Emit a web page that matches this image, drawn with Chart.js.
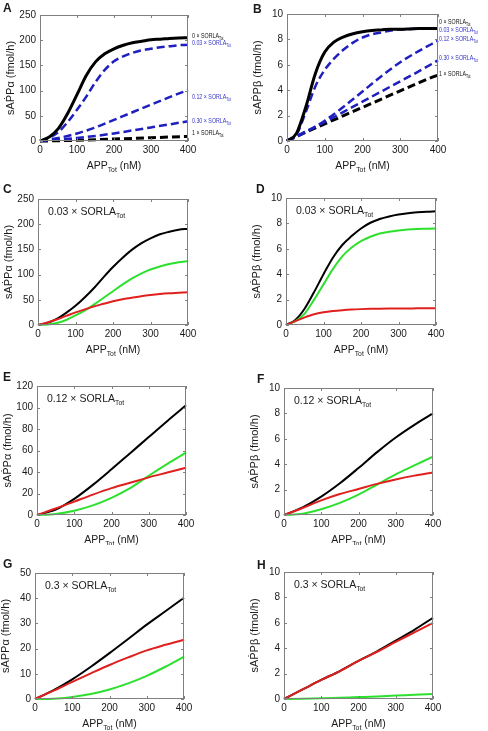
<!DOCTYPE html>
<html>
<head>
<meta charset="utf-8">
<script src="https://cdn.jsdelivr.net/npm/chart.js@4.4.1/dist/chart.umd.min.js"></script>
<style>
  body { margin: 0; background: #fff; width: 488px; height: 731px; position: relative; overflow: hidden; }
  canvas { position: absolute; }
</style>
</head>
<body>
<script>
// APP_Tot (nM) sample points
const appFine = [0, 25, 50, 75, 100, 125, 150, 175, 200, 225, 250, 275, 300, 325, 350, 375, 400];
const appCoarse = [0, 50, 100, 150, 200, 250, 300, 350, 400];

// tick labels
const xTicks = [0, 100, 200, 300, 400];
const yTicks250 = [0, 50, 100, 150, 200, 250];
const yTicks120 = [0, 20, 40, 60, 80, 100, 120];
const yTicks50 = [0, 10, 20, 30, 40, 50];
const yTicks10 = [0, 2, 4, 6, 8, 10];

const sorlaLevels = ['0', '0.03', '0.12', '0.30', '1'];

// A: sAPPalpha for several SORLA levels
const aSorla0 = [0, 8, 25, 55, 92, 130, 157, 173, 183, 190, 195, 198, 201, 202, 203.5, 204.5, 205];
const aSorla003 = [0, 7, 18, 38, 62, 88, 117, 141, 158, 168, 175, 180, 183, 186, 188, 190, 191];
const aSorla012 = [0, 6, 15, 27, 42, 57, 72, 87, 101];
const aSorla030 = [0, 3, 6, 10, 15, 21, 27, 33, 39];
const aSorla1 = [0, 0.6, 1.5, 2.6, 3.9, 5.2, 6.5, 7.8, 9];

// B: sAPPbeta for several SORLA levels
const bSorla0 = [0, 0.6, 2.7, 5.3, 7.0, 7.8, 8.2, 8.45, 8.6, 8.7, 8.75, 8.8, 8.8, 8.82, 8.85, 8.85, 8.85];
const bSorla003 = [0, 0.5, 2.3, 4.3, 5.6, 6.5, 7.2, 7.75, 8.15, 8.4, 8.55, 8.7, 8.78, 8.82, 8.85, 8.87, 8.88];
const bSorla012 = [0, 0.7, 1.6, 2.7, 3.9, 5.1, 6.2, 7.1, 7.9];
const bSorla030 = [0, 0.75, 1.5, 2.3, 3.1, 3.9, 4.7, 5.5, 6.35];
const bSorla1 = [0, 0.7, 1.35, 2.0, 2.65, 3.3, 3.95, 4.6, 5.2];

// C, D: 0.03 x SORLA
const cBlack = [0, 4, 12, 24, 38, 55, 74, 95, 115, 133, 149, 162, 172, 180, 185, 189, 191];
const cGreen = [0, 1, 4, 10, 19, 29, 41, 54, 67, 80, 92, 102, 110, 116, 121, 124.5, 127];
const cRed = [0, 5, 11, 18, 25, 31, 37, 42, 47, 51, 54, 57, 59.5, 61.5, 63, 64, 65];
const dBlack = [0, 0.4, 1.3, 2.6, 4.0, 5.3, 6.3, 7.0, 7.6, 8.05, 8.35, 8.55, 8.7, 8.8, 8.87, 8.92, 8.95];
const dGreen = [0, 0.3, 0.9, 2.0, 3.2, 4.4, 5.4, 6.1, 6.6, 6.95, 7.2, 7.35, 7.45, 7.52, 7.56, 7.58, 7.6];
const dRed = [0, 0.3, 0.6, 0.85, 1.0, 1.1, 1.17, 1.22, 1.25, 1.27, 1.28, 1.29, 1.3, 1.3, 1.31, 1.31, 1.32];

// E, F: 0.12 x SORLA
const eBlack = [0, 5, 15, 28, 42.5, 57.5, 72.5, 87.5, 102];
const eGreen = [0, 1, 4, 9, 16, 25, 36.5, 47.5, 58];
const eRed = [0, 6, 12.5, 19, 25, 30, 35, 39.5, 44];
const fBlack = [0, 0.6, 1.45, 2.5, 3.7, 4.95, 6.1, 7.1, 8.0];
const fGreen = [0, 0.1, 0.45, 0.95, 1.6, 2.4, 3.2, 3.9, 4.6];
const fRed = [0, 0.55, 1.15, 1.65, 2.05, 2.45, 2.8, 3.1, 3.35];

// G, H: 0.3 x SORLA
const gBlack = [0, 3.5, 7.8, 12.8, 18.2, 23.8, 29.5, 34.8, 40.2];
const gGreen = [0, 0.1, 0.8, 2.0, 3.8, 6.2, 9.2, 12.8, 16.8];
const gRed = [0, 3.3, 6.8, 10.2, 13.5, 16.5, 19.3, 21.5, 23.5];
const hBlack = [0, 0.75, 1.5, 2.2, 3.0, 3.75, 4.6, 5.45, 6.4];
const hGreen = [0, 0.02, 0.05, 0.1, 0.15, 0.2, 0.27, 0.33, 0.4];
const hRed = [0, 0.75, 1.5, 2.2, 3.0, 3.72, 4.5, 5.25, 6.0];

const FONT = '"Liberation Sans", Arial, Helvetica, sans-serif';
const BLUE = '#1f1fbf';
const BLUE_TXT = '#3434c8';
const GREEN = '#2ee02e';
const RED = '#e0201e';

function line(xs, ys, color, width, dash) {
  return {
    data: xs.map((x, i) => ({ x: x, y: ys[i] })),
    borderColor: color,
    borderWidth: width,
    borderDash: dash || [],
    borderCapStyle: 'butt',
    pointRadius: 0,
    cubicInterpolationMode: 'monotone',
    fill: false,
    clip: false
  };
}

const DASH = [8, 4];

const panels = [
  { letter: 'A', at: [3, 12], box: [0, 0, 244, 175], plot: [40, 15, 188, 141], yTicks: yTicks250, greek: 'α',
    sets: [
      line(appFine, aSorla0, '#000', 3),
      line(appFine, aSorla003, BLUE, 2.5, DASH),
      line(appCoarse, aSorla012, BLUE, 2.5, DASH),
      line(appCoarse, aSorla030, BLUE, 2.5, DASH),
      line(appCoarse, aSorla1, '#000', 3, DASH)
    ],
    side: { dx: 4, at: [210, 196, 89, 40, 16] } },
  { letter: 'B', at: [253, 13], box: [244, 0, 244, 175], plot: [287, 14, 438, 141], yTicks: yTicks10, greek: 'β',
    sets: [
      line(appFine, bSorla0, '#000', 3),
      line(appFine, bSorla003, BLUE, 2.5, DASH),
      line(appCoarse, bSorla012, BLUE, 2.5, DASH),
      line(appCoarse, bSorla030, BLUE, 2.5, DASH),
      line(appCoarse, bSorla1, '#000', 3, DASH)
    ],
    side: { dx: 1, at: [9.37, 8.74, 8.03, 6.54, 5.28] } },
  { letter: 'C', at: [3, 193], box: [0, 175, 244, 185], plot: [38, 199, 188, 325], yTicks: yTicks250, greek: 'α', inset: '0.03',
    sets: [line(appFine, cRed, RED, 2), line(appFine, cGreen, GREEN, 2), line(appFine, cBlack, '#000', 2)] },
  { letter: 'D', at: [256, 193], box: [244, 175, 244, 185], plot: [286, 198, 436, 325], yTicks: yTicks10, greek: 'β', inset: '0.03',
    sets: [line(appFine, dRed, RED, 2), line(appFine, dGreen, GREEN, 2), line(appFine, dBlack, '#000', 2)] },
  { letter: 'E', at: [3, 381], box: [0, 360, 244, 185], plot: [37, 386, 186, 515], yTicks: yTicks120, greek: 'α', inset: '0.12',
    sets: [line(appCoarse, eRed, RED, 2), line(appCoarse, eGreen, GREEN, 2), line(appCoarse, eBlack, '#000', 2)] },
  { letter: 'F', at: [257, 383], box: [244, 360, 244, 185], plot: [284, 388, 433, 515], yTicks: yTicks10, greek: 'β', inset: '0.12',
    sets: [line(appCoarse, fRed, RED, 2), line(appCoarse, fGreen, GREEN, 2), line(appCoarse, fBlack, '#000', 2)] },
  { letter: 'G', at: [3, 568], box: [0, 545, 244, 186], plot: [35, 573, 184, 699], yTicks: yTicks50, greek: 'α', inset: '0.3',
    sets: [line(appCoarse, gRed, RED, 2), line(appCoarse, gGreen, GREEN, 2), line(appCoarse, gBlack, '#000', 2)] },
  { letter: 'H', at: [257, 569], box: [244, 545, 244, 186], plot: [284, 572, 433, 699], yTicks: yTicks10, greek: 'β', inset: '0.3',
    sets: [line(appCoarse, hGreen, GREEN, 2), line(appCoarse, hRed, RED, 2), line(appCoarse, hBlack, '#000', 2)] }
];

// draws text made of normal and subscript parts, optionally squeezed horizontally
function drawParts(ctx, parts, x, y, size, align, squeeze) {
  const sx = squeeze || 1;
  const subSize = size * 0.65;
  let w = 0;
  parts.forEach(([t, sub]) => {
    ctx.font = (sub ? subSize : size) + 'px ' + FONT;
    w += ctx.measureText(t).width;
  });
  w *= sx;
  ctx.save();
  ctx.translate(align === 'center' ? x - w / 2 : x, y);
  ctx.scale(sx, 1);
  ctx.textAlign = 'left';
  ctx.textBaseline = 'alphabetic';
  let cx = 0;
  parts.forEach(([t, sub]) => {
    ctx.font = (sub ? subSize : size) + 'px ' + FONT;
    ctx.fillText(t, cx, sub ? size * 0.3 : 0);
    cx += ctx.measureText(t).width;
  });
  ctx.restore();
}

const decor = {
  id: 'decor',
  afterDraw(chart) {
    const p = chart.options.plugins.decor;
    const { ctx, chartArea: a, scales: { x, y } } = chart;
    ctx.save();

    // box with inward ticks
    ctx.strokeStyle = '#808080';
    ctx.lineWidth = 1;
    ctx.strokeRect(Math.round(a.left) + 0.5, Math.round(a.top) + 0.5, Math.round(a.width) - 1, Math.round(a.height) - 1);
    ctx.beginPath();
    x.ticks.forEach(t => {
      const px = Math.round(x.getPixelForValue(t.value)) + 0.5;
      ctx.moveTo(px, a.bottom); ctx.lineTo(px, a.bottom - 3);
      ctx.moveTo(px, a.top); ctx.lineTo(px, a.top + 3);
    });
    y.ticks.forEach(t => {
      const py = Math.round(y.getPixelForValue(t.value)) + 0.5;
      ctx.moveTo(a.left, py); ctx.lineTo(a.left + 3, py);
      ctx.moveTo(a.right, py); ctx.lineTo(a.right - 3, py);
    });
    ctx.stroke();

    ctx.fillStyle = '#1a1a1a';
    // panel letter
    ctx.font = 'bold 12px ' + FONT;
    ctx.textAlign = 'left';
    ctx.textBaseline = 'alphabetic';
    ctx.fillText(p.letter, p.at[0] - p.box[0], p.at[1] - p.box[1]);

    // x title
    drawParts(ctx, [['APP', false], ['Tot', true], [' (nM)', false]], (a.left + a.right) / 2, a.bottom + 28, 10.5, 'center');

    // y title
    ctx.save();
    ctx.translate(a.left - 29, (a.top + a.bottom) / 2);
    ctx.rotate(-Math.PI / 2);
    ctx.font = '11px ' + FONT;
    ctx.textAlign = 'center';
    ctx.textBaseline = 'middle';
    ctx.fillText('sAṖP' + p.greek + ' (fmol/h)', 0, 0);
    ctx.restore();

    // inset label
    if (p.inset) {
      drawParts(ctx, [[p.inset + ' × SORLA', false], ['Tot', true]], a.left + 10, a.top + 16, 10.5, 'left');
    }

    // curve labels on the right
    if (p.side) {
      sorlaLevels.forEach((lv, i) => {
        ctx.fillStyle = (i === 0 || i === sorlaLevels.length - 1) ? '#111' : BLUE_TXT;
        const py = y.getPixelForValue(p.side.at[i]);
        drawParts(ctx, [[lv + ' × SORLA', false], ['Tot', true]], a.right + p.side.dx, py + 2.4, 6.8, 'left', 0.78);
      });
    }
    ctx.restore();
  }
};

panels.forEach(p => {
  const [bx, by, bw, bh] = p.box;
  const [pl, pt, pr, pb] = p.plot;
  const yW = 32, xH = 14;
  const cv = document.createElement('canvas');
  cv.width = bw; cv.height = bh;
  cv.style.left = bx + 'px'; cv.style.top = by + 'px';
  cv.style.width = bw + 'px'; cv.style.height = bh + 'px';
  document.body.appendChild(cv);

  const tickFont = { family: FONT, size: 10 };
  new Chart(cv, {
    type: 'line',
    data: { datasets: p.sets },
    options: {
      responsive: false,
      animation: false,
      devicePixelRatio: 1,
      layout: {
        padding: { left: pl - bx - yW, top: pt - by, right: bx + bw - pr, bottom: by + bh - pb - xH }
      },
      plugins: {
        legend: { display: false },
        tooltip: { enabled: false },
        decor: { letter: p.letter, at: p.at, box: p.box, greek: p.greek, inset: p.inset, side: p.side }
      },
      scales: {
        x: {
          type: 'linear', min: 0, max: 400,
          grid: { display: false, drawTicks: false },
          border: { display: false },
          afterBuildTicks: s => { s.ticks = xTicks.map(v => ({ value: v })); },
          afterFit: s => { s.height = xH; },
          ticks: { font: tickFont, color: '#1a1a1a', padding: 3, maxRotation: 0 }
        },
        y: {
          type: 'linear', min: 0, max: p.yTicks[p.yTicks.length - 1],
          grid: { display: false, drawTicks: false },
          border: { display: false },
          afterBuildTicks: s => { s.ticks = p.yTicks.map(v => ({ value: v })); },
          afterFit: s => { s.width = yW; },
          ticks: { font: tickFont, color: '#1a1a1a', padding: 4 }
        }
      }
    },
    plugins: [decor]
  });
});
</script>
</body>
</html>
